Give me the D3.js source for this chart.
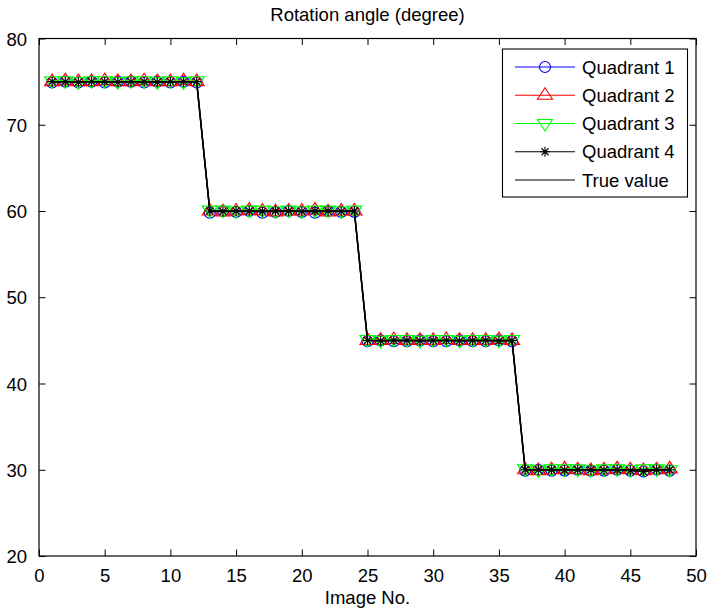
<!DOCTYPE html>
<html><head><meta charset="utf-8">
<script src="https://cdn.jsdelivr.net/npm/d3@7/dist/d3.min.js"></script>
<style>body{margin:0;background:#fff}svg{display:block}text{font-family:"Liberation Sans",Arial,sans-serif;fill:#000}</style>
</head><body><svg id="c" width="710" height="615"></svg>
<script>
const imageNo = [1,2,3,4,5,6,7,8,9,10,11,12,13,14,15,16,17,18,19,20,21,22,23,24,25,26,27,28,29,30,31,32,33,34,35,36,37,38,39,40,41,42,43,44,45,46,47,48];
const trueValue = [75,75,75,75,75,75,75,75,75,75,75,75,60,60,60,60,60,60,60,60,60,60,60,60,45,45,45,45,45,45,45,45,45,45,45,45,30,30,30,30,30,30,30,30,30,30,30,30];
const quadrant1 = [74.9,75.0,74.9,75.0,74.9,75.0,75.0,74.9,75.0,74.9,75.0,74.9,59.8,60.0,59.9,60.0,59.8,59.9,60.0,59.9,59.8,60.0,59.9,59.9,44.9,45.0,44.9,44.9,45.0,44.9,44.9,45.0,44.9,44.9,45.0,44.9,29.9,30.0,29.9,29.9,30.0,29.9,29.9,30.0,29.9,29.8,30.0,29.9];
const quadrant2 = [75.0,75.1,75.0,75.0,75.1,75.0,75.0,75.1,75.0,75.0,75.1,75.0,60.0,59.9,60.0,60.1,60.0,59.9,60.0,60.0,60.1,59.9,60.0,60.0,45.0,45.0,45.1,45.0,45.0,45.0,45.1,45.0,45.0,45.0,45.1,45.0,30.0,29.9,30.0,30.1,30.0,29.9,30.0,30.1,30.0,29.9,30.0,30.1];
const quadrant3 = [75.1,75.1,75.0,75.1,75.1,75.0,75.1,75.1,75.0,75.1,75.0,75.1,60.1,60.1,60.0,60.1,60.1,60.0,60.1,60.0,60.1,60.1,60.0,60.1,45.1,45.0,45.1,45.1,45.0,45.1,45.1,45.0,45.1,45.1,45.0,45.1,30.1,30.0,30.1,30.1,30.1,30.0,30.1,30.1,30.0,30.1,30.1,30.0];
const quadrant4 = [75.0,75.0,74.95,75.0,75.0,74.95,75.0,75.0,74.95,75.0,75.0,75.0,60.0,59.95,60.0,60.0,59.95,60.0,60.0,59.95,60.0,60.0,59.95,60.0,45.0,44.95,45.0,45.0,44.95,45.0,45.0,44.95,45.0,45.0,44.95,45.0,30.0,30.0,30.0,29.95,30.0,30.0,29.95,30.0,29.9,29.8,30.0,30.0];
const xTicks = [0,5,10,15,20,25,30,35,40,45,50];
const yTicks = [20,30,40,50,60,70,80];
const seriesNames = ["Quadrant 1","Quadrant 2","Quadrant 3","Quadrant 4","True value"];
const seriesColors = ["#0000ff","#ff0000","#00ff00","#000000","#000000"];
const seriesMarkers = ["circle","triUp","triDown","star","none"];

const svg = d3.select("#c");
const L=39, R=696, T=38.5, B=556;
const x = d3.scaleLinear().domain([0,50]).range([L,R]);
const y = d3.scaleLinear().domain([20,80]).range([B,T]);

function markerPath(type){
  if(type==="circle") return d3.arc()({innerRadius:0,outerRadius:5.5,startAngle:0,endAngle:2*Math.PI});
  if(type==="triUp") return "M0,-7.5L7.5,4L-7.5,4Z";
  if(type==="triDown") return "M0,7.5L7.5,-4L-7.5,-4Z";
  if(type==="star") return "M0,-5V5M-5,0H5M-3.5,-3.5L3.5,3.5M-3.5,3.5L3.5,-3.5";
  return "";
}

svg.append("rect").attr("x",L).attr("y",T).attr("width",R-L).attr("height",B-T).attr("fill","#fff").attr("stroke","none");

const allSeries = [quadrant1,quadrant2,quadrant3,quadrant4,trueValue];
const line = d3.line().x((d,i)=>x(imageNo[i])).y(d=>y(d));
const g = svg.append("g");
allSeries.forEach((vals,s)=>{
  g.append("path").attr("d",line(vals)).attr("fill","none").attr("stroke",seriesColors[s]).attr("stroke-width",s>=3?1.5:1.1);
  if(seriesMarkers[s]!=="none"){
    g.selectAll(null).data(vals).enter().append("path")
      .attr("transform",(d,i)=>`translate(${x(imageNo[i])},${y(d)})`)
      .attr("d",markerPath(seriesMarkers[s]))
      .attr("fill","none").attr("stroke",seriesColors[s]).attr("stroke-width",1.2);
  }
});

const tl = 6.5;
const xb = svg.append("g").attr("transform",`translate(0,${B})`)
  .call(d3.axisBottom(x).tickValues(xTicks).tickSize(-tl).tickPadding(13).tickSizeOuter(0));
const xt = svg.append("g").attr("transform",`translate(0,${T})`)
  .call(d3.axisTop(x).tickValues(xTicks).tickSize(-tl).tickFormat("").tickSizeOuter(0));
const yl = svg.append("g").attr("transform",`translate(${L},0)`)
  .call(d3.axisLeft(y).tickValues(yTicks).tickSize(-tl).tickPadding(12).tickSizeOuter(0));
const yr = svg.append("g").attr("transform",`translate(${R},0)`)
  .call(d3.axisRight(y).tickValues(yTicks).tickSize(-tl).tickFormat("").tickSizeOuter(0));
[xb,xt,yl,yr].forEach(a=>{
  a.select(".domain").remove();
  a.selectAll("line").attr("stroke","#000").attr("stroke-width",1);
  a.selectAll("text").attr("font-size","18.5px").attr("font-family","Liberation Sans, Arial, sans-serif").attr("fill","#000");
});
xb.selectAll("text").attr("dy","0.71em");
yl.selectAll("text").attr("dy","0.36em");
svg.append("rect").attr("x",L).attr("y",T).attr("width",R-L).attr("height",B-T).attr("fill","none").attr("stroke","#000").attr("stroke-width",1.2);

svg.append("text").attr("x",(L+R)/2).attr("y",20.5).attr("text-anchor","middle").attr("font-size","18.5px").text("Rotation angle (degree)");
svg.append("text").attr("x",(L+R)/2).attr("y",604).attr("text-anchor","middle").attr("font-size","18.5px").text("Image No.");

const lg = svg.append("g");
lg.append("rect").attr("x",502.5).attr("y",49).attr("width",185).attr("height",148).attr("fill","#fff").attr("stroke","#000").attr("stroke-width",1.1);
const ly = d3.scaleLinear().domain([0,4]).range([67,180]);
seriesNames.forEach((n,s)=>{
  const yy = ly(s);
  lg.append("line").attr("x1",515).attr("x2",575).attr("y1",yy).attr("y2",yy).attr("stroke",seriesColors[s]).attr("stroke-width",1.1);
  if(seriesMarkers[s]!=="none") lg.append("path").attr("transform",`translate(545,${yy})`).attr("d",markerPath(seriesMarkers[s])).attr("fill","none").attr("stroke",seriesColors[s]).attr("stroke-width",1.1);
  lg.append("text").attr("x",582).attr("y",yy).attr("dy","0.36em").attr("font-size","18.5px").text(n);
});
</script></body></html>
